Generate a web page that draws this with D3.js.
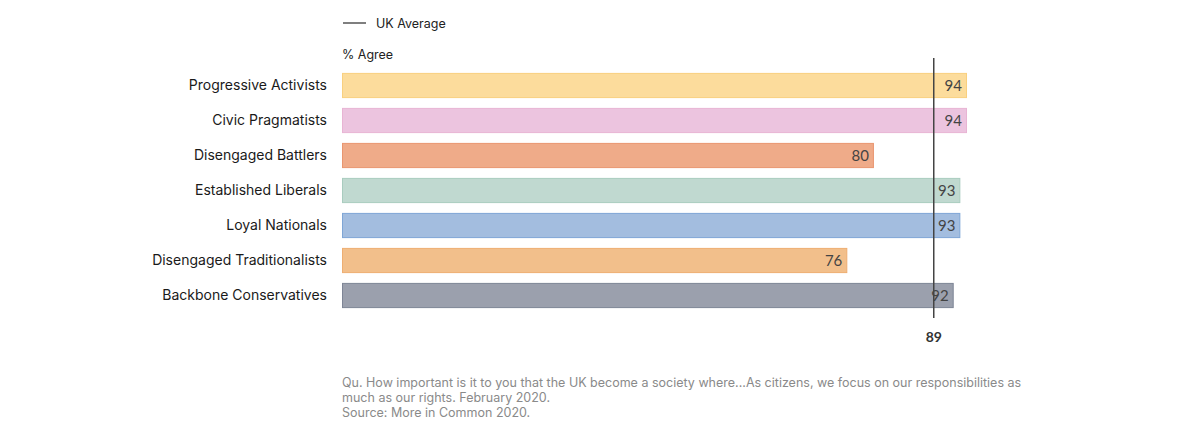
<!DOCTYPE html>
<html>
<head>
<meta charset="utf-8">
<script src="https://cdn.jsdelivr.net/npm/d3@7"></script>
<style>
  body { margin: 0; background: #fff; }
  svg { display: block; }
</style>
</head>
<body>
<div id="myPlot"></div>
<script>
// Chart data
const segments = ["Progressive Activists", "Civic Pragmatists", "Disengaged Battlers",
  "Established Liberals", "Loyal Nationals", "Disengaged Traditionalists", "Backbone Conservatives"];
const agree = [94, 94, 80, 93, 93, 76, 92];
const ukAverage = 89;
const fills = ["#fcdc9c", "#ecc4df", "#efab89", "#c0d9d0", "#a3bddf", "#f2bf8b", "#9ba0ad"];
const strokes = ["#f9d07f", "#e8b4d4", "#e99670", "#a9ccbf", "#7fa6d6", "#eeae72", "#7e8596"];
const footnote = [
  "Qu. How important is it to you that the UK become a society where...As citizens, we focus on our responsibilities as",
  "much as our rights. February 2020.",
  "Source: More in Common 2020."
];

const width = 1200, height = 443;
const left = 342;

const svg = d3.select("#myPlot").append("svg")
  .attr("width", width).attr("height", height);

// scales
const x = d3.scaleLinear().domain([0, 94]).range([left, 967]);
const y = d3.scaleBand().domain(segments).range([68, 313]).paddingInner(0.28).paddingOuter(0.14);

// legend
svg.append("line")
  .attr("x1", 343).attr("x2", 366).attr("y1", 23).attr("y2", 23)
  .attr("stroke", "#555").attr("stroke-width", 1.5);
svg.append("text")
  .attr("x", 376).attr("y", 27.5)
  .style("font-family", "Inter, 'Noto Sans', sans-serif").style("font-size", "12.5px")
  .attr("fill", "#222").text("UK Average");

svg.append("text")
  .attr("x", 342).attr("y", 58.5)
  .style("font-family", "Inter, 'Noto Sans', sans-serif").style("font-size", "12.5px")
  .attr("fill", "#222").text("% Agree");

// bars
svg.append("g").selectAll("rect")
  .data(agree).enter()
  .append("rect")
  .attr("x", x(0) + 0.5)
  .attr("y", (d, i) => y(segments[i]) + 0.5)
  .attr("width", d => x(d) - x(0) - 1)
  .attr("height", y.bandwidth() - 1)
  .attr("fill", (d, i) => fills[i])
  .attr("stroke", (d, i) => strokes[i])
  .attr("stroke-width", 1);

// category labels
svg.append("g").selectAll("text")
  .data(segments).enter()
  .append("text")
  .attr("x", 327)
  .attr("y", d => y(d) + y.bandwidth() / 2)
  .attr("dy", "0.35em")
  .attr("text-anchor", "end")
  .style("font-family", "Inter, 'Noto Sans', sans-serif").style("font-size", "14px")
  .attr("fill", "#1a1a1a")
  .text(d => d);

// average line
svg.append("line")
  .attr("x1", x(ukAverage)).attr("x2", x(ukAverage))
  .attr("y1", 58).attr("y2", 318)
  .attr("stroke", "#444").attr("stroke-width", 1.5);
svg.append("text")
  .attr("x", x(ukAverage)).attr("y", 342)
  .attr("text-anchor", "middle")
  .style("font-family", "Lato, sans-serif").style("font-size", "14px").style("font-weight", "bold")
  .attr("fill", "#333").text(ukAverage);

// value labels
svg.append("g").selectAll("text")
  .data(agree).enter()
  .append("text")
  .attr("x", d => x(d) - 5)
  .attr("y", (d, i) => y(segments[i]) + y.bandwidth() / 2)
  .attr("dy", "0.36em")
  .attr("text-anchor", "end")
  .style("font-family", "Lato, sans-serif").style("font-size", "15px")
  .attr("fill", "#444")
  .text(d => d);

// footnote
svg.append("g").selectAll("text")
  .data(footnote).enter()
  .append("text")
  .attr("x", 342)
  .attr("y", (d, i) => 387 + i * 15)
  .style("font-family", "Inter, 'Noto Sans', sans-serif").style("font-size", "12.5px")
  .attr("fill", "#8a8a8a")
  .text(d => d);
</script>
</body>
</html>
